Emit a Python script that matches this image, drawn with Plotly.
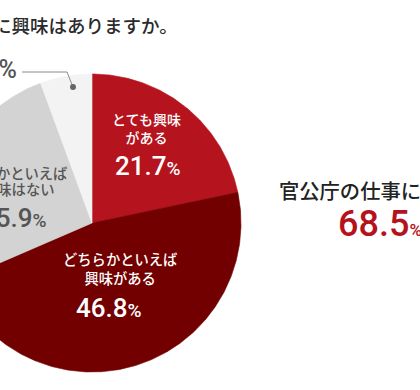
import numpy as np
import plotly.graph_objects as go

# ---- data ----
categories = ["とても興味がある", "どちらかといえば興味がある", "どちらかといえば興味はない", "興味はない"]
values = [21.7, 46.8, 25.9, 5.6]
colors = ["#B5141E", "#720000", "#D3D3D3", "#F3F3F3"]
title_text = "に興味はありますか。"
summary_text = "官公庁の仕事に興味がある"
summary_value = 68.5

# ---- layout constants (px) ----
W, H = 420, 390
CX, CY, R = 92, 223, 149

JP = "Noto Sans CJK JP, Noto Sans, sans-serif"
NUM = "Roboto, Noto Sans, sans-serif"


def px(x):
    return x / W


def py(y):
    return 1 - y / H


fig = go.Figure()
total = sum(values)
start = 0.0
mids = []
for cat, v, c in zip(categories, values, colors):
    a0 = start / total * 2 * np.pi
    a1 = (start + v) / total * 2 * np.pi
    t = np.linspace(a0, a1, max(int(v * 5), 12))
    xs = np.concatenate([[0], np.sin(t), [0]])
    ys = np.concatenate([[0], np.cos(t), [0]])
    fig.add_trace(go.Scatter(x=xs, y=ys, fill="toself", fillcolor=c,
                             line=dict(color=c, width=0.6), mode="lines",
                             hoverinfo="text", text=f"{cat}: {v}%",
                             showlegend=False))
    mids.append((a0 + a1) / 2)
    start += v

# leader line for the small slice
m = mids[3]
dx, dy = 0.92 * np.sin(m) + 5 / R, 0.92 * np.cos(m) + 1 / R
ex, ey = dx - 6 / R, (CY - 72) / R
lx = (22 - CX) / R
fig.add_trace(go.Scatter(x=[dx, ex, lx], y=[dy, ey, ey], mode="lines",
                         line=dict(color="#8a8a8a", width=1), hoverinfo="skip",
                         showlegend=False))
fig.add_trace(go.Scatter(x=[dx], y=[dy], mode="markers",
                         marker=dict(color="#666666", size=6), hoverinfo="skip",
                         showlegend=False))


def pct(v, size_pct):
    return f"{v}<span style='font-size:{size_pct}px'>%</span>"


ann = []


def add(text, x, y, size, color, family=JP, xanchor="center", weight=500):
    ann.append(dict(text=text, x=px(x), y=py(y), xref="paper", yref="paper",
                    showarrow=False, xanchor=xanchor, yanchor="middle",
                    font=dict(family=family, size=size, color=color,
                              weight=weight)))


# title (cropped)
add(title_text, -9, 25, 18.5, "#2a2a2a", xanchor="left")

# slice labels
add("とても興味<br>がある", 146, 128.5, 14, "#ffffff")
add(pct(values[0], 19), 148, 166, 26, "#ffffff", NUM)

add("どちらかといえば<br>興味がある", 120, 267.5, 14.3, "#ffffff")
add(pct(values[1], 19), 109, 308, 26, "#ffffff", NUM)

add("どちらかといえば", 10, 172, 14.3, "#555555")
add("興味はない", 18, 188.5, 14.3, "#555555")
add(pct(values[2], 19), 14, 218, 26, "#555555", NUM)

add(pct(values[3], 25), 19, 69, 25, "#555555", NUM, xanchor="right")

# summary
add(summary_text, 277, 190, 20.3, "#222222", xanchor="left")
add(pct(summary_value, 17), 336, 224, 36, "#B5121B", NUM, xanchor="left")

fig.update_layout(
    width=W, height=H,
    margin=dict(l=0, r=0, t=0, b=0),
    paper_bgcolor="white", plot_bgcolor="white",
    xaxis=dict(range=[-CX / R, (W - CX) / R], visible=False, fixedrange=True),
    yaxis=dict(range=[-(H - CY) / R, CY / R], visible=False, fixedrange=True),
    annotations=ann,
    showlegend=False,
)

fig.write_html("out.html", config={"displayModeBar": False},
               post_script="document.body.style.margin='0';document.body.style.overflow='hidden';")
